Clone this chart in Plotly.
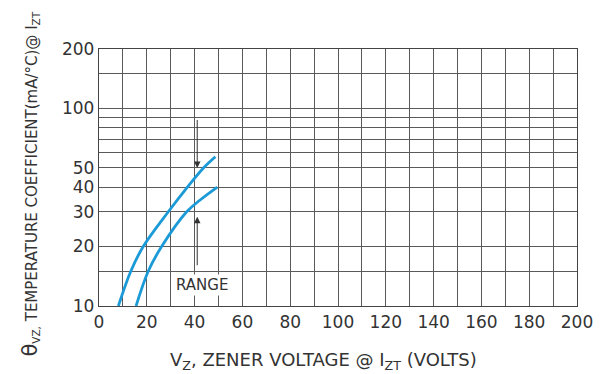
import numpy as np
import plotly.graph_objects as go

# Data
upper_vz = [8.1, 13.3, 18.5, 29.0, 37.0, 43.7, 48.7]
upper_tc = [10, 15, 20, 30, 40, 50, 57]
lower_vz = [15.5, 20.6, 26.2, 36.7, 42.3, 49.5]
lower_tc = [10, 15, 20, 30, 34.4, 40]

x_major = list(range(0, 201, 20))
x_minor = list(range(10, 200, 20))
y_labeled = [10, 20, 30, 40, 50, 100, 200]
y_minor = [15, 60, 70, 80, 90, 150]

arrow_x = 41.1
arrow_down = [89, 50]     # from, to
arrow_up = [15.8, 28.3]   # from, to
range_label_pos = (43.3, 12.8)

blue = "#1b9ad8"
grid = "#5a5a5a"
txt = "#333333"
font = "DejaVu Sans, Verdana, sans-serif"

fig = go.Figure()
for xs, ys in [(upper_vz, upper_tc), (lower_vz, lower_tc)]:
    fig.add_trace(go.Scatter(x=xs, y=ys, mode="lines",
                             line=dict(color=blue, width=2.8, shape="spline", smoothing=1.0),
                             showlegend=False, hoverinfo="skip"))

annotations = [
    dict(x=arrow_x, y=np.log10(arrow_down[1]), ax=arrow_x, ay=np.log10(arrow_down[0]),
         xref="x", yref="y", axref="x", ayref="y", showarrow=True, text="",
         arrowhead=2, arrowsize=1.3, arrowwidth=1, arrowcolor="#333"),
    dict(x=arrow_x, y=np.log10(arrow_up[1]), ax=arrow_x, ay=np.log10(arrow_up[0]),
         xref="x", yref="y", axref="x", ayref="y", showarrow=True, text="",
         arrowhead=2, arrowsize=1.3, arrowwidth=1, arrowcolor="#333"),
    dict(x=range_label_pos[0], y=np.log10(range_label_pos[1]), xref="x", yref="y",
         text="RANGE", showarrow=False, font=dict(family=font, size=15, color=txt),
         bgcolor="white", borderpad=1),
    dict(x=-0.145, y=0.475, xref="paper", yref="paper", textangle=-90, showarrow=False,
         text="<span style='font-size:21px'>θ</span><sub>VZ,</sub>"
              " TEMPERATURE COEFFICIENT(mA/°C)@ I<sub>ZT</sub>",
         font=dict(family=font, size=15, color=txt), xanchor="center", yanchor="middle"),
    dict(x=0.47, y=-0.215, xref="paper", yref="paper", showarrow=False,
         text="V<sub>Z</sub>, ZENER VOLTAGE @ I<sub>ZT</sub> (VOLTS)",
         font=dict(family=font, size=18, color=txt), xanchor="center", yanchor="middle"),
]

axis_common = dict(showgrid=True, gridcolor=grid, gridwidth=1, zeroline=False,
                   showline=True, linecolor="#444", linewidth=1.3, mirror=True,
                   ticks="", tickfont=dict(family=font, size=17, color=txt))

fig.update_layout(
    width=609, height=374,
    margin=dict(l=99, r=32, t=49, b=68),
    paper_bgcolor="white", plot_bgcolor="white",
    annotations=annotations,
    xaxis=dict(range=[0, 200], tickmode="array", tickvals=x_major,
               minor=dict(tickmode="array", tickvals=x_minor, showgrid=True,
                          gridcolor=grid, gridwidth=1, ticks=""),
               **axis_common),
    yaxis=dict(type="log", range=[1, np.log10(200)], tickmode="array", tickvals=y_labeled,
               minor=dict(tickmode="array", tickvals=y_minor, showgrid=True,
                          gridcolor=grid, gridwidth=1, ticks=""),
               **axis_common),
)

fig.write_html("out.html")
